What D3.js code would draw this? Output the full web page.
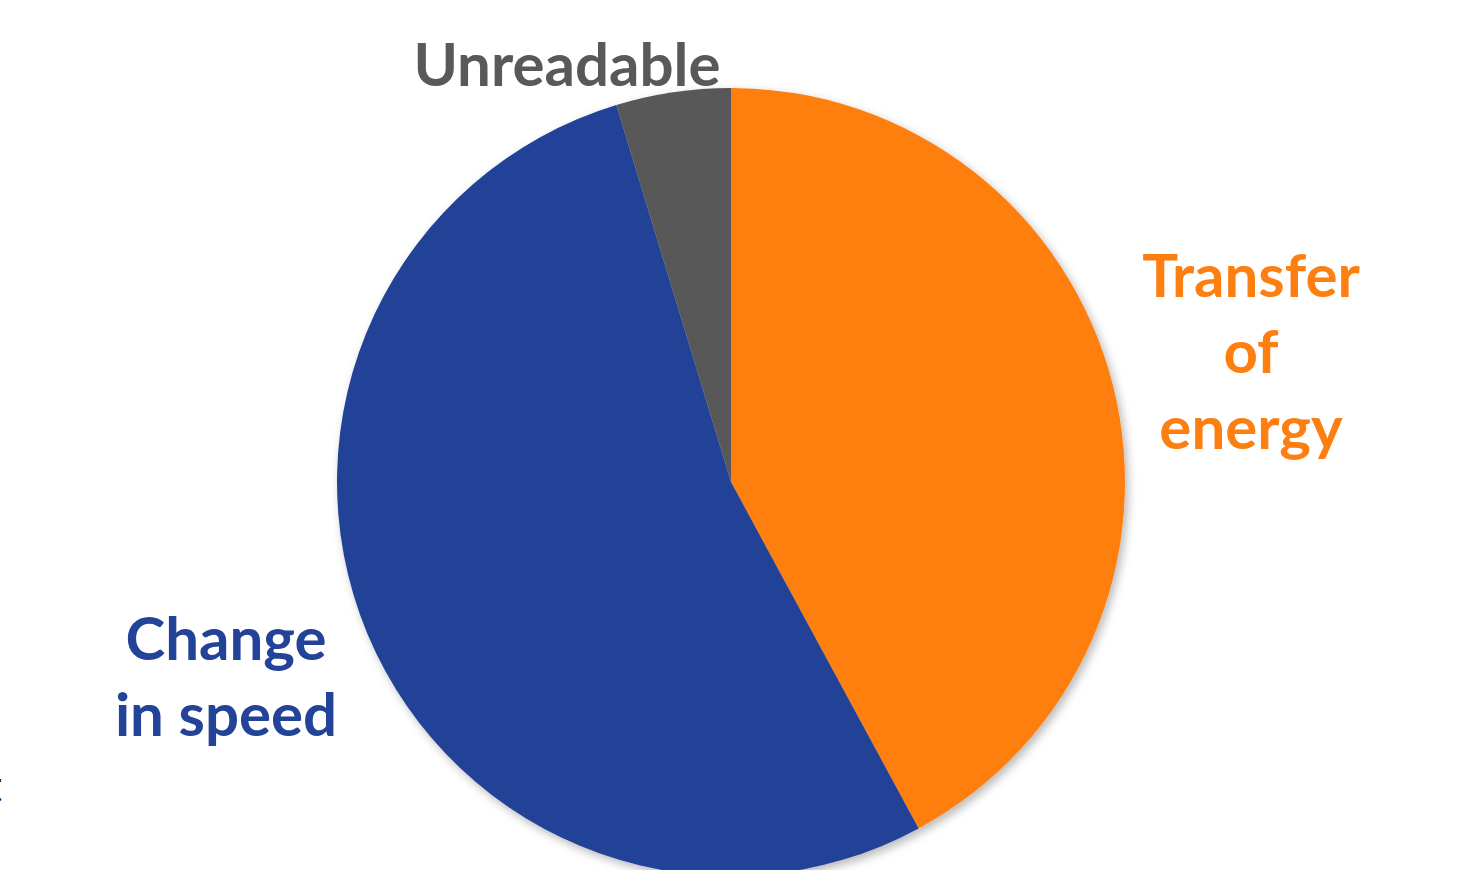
<!DOCTYPE html>
<html>
<head>
<meta charset="utf-8">
<script src="https://cdn.jsdelivr.net/npm/d3@7"></script>
<style>
  html, body { margin: 0; padding: 0; background: #fff; overflow: hidden; }
  svg { display: block; }
  .label { font-family: Lato, "Open Sans", sans-serif; font-weight: 700; }
</style>
</head>
<body>
<svg id="chart" width="1478" height="870"></svg>
<script>
'use strict';

// share of answers per category
const categories = ['Transfer of energy', 'Change in speed', 'Unreadable'];
const values = [42.1, 53.2, 4.7];
const colors = ['#FE7F11', '#234398', '#595959'];

// label text lines, one list per category
const labelLines = [
  ['Transfer', 'of', 'energy'],
  ['Change', 'in speed'],
  ['Unreadable'],
];

// where each label block sits (center x, first baseline y)
const labelSpots = [
  { x: 1251, y: 297 },
  { x: 226, y: 660 },
  { x: 567, y: 86 },
];

const cx = 731;
const cy = 482;
const radius = 394;
const lineGap = 76;

const svg = d3.select('#chart');

const defs = svg.append('defs');
const shadow = defs.append('filter')
  .attr('id', 'shadow')
  .attr('x', '-10%').attr('y', '-10%')
  .attr('width', '120%').attr('height', '120%');
shadow.append('feDropShadow')
  .attr('dx', 3).attr('dy', 4)
  .attr('stdDeviation', 5)
  .attr('flood-color', '#000')
  .attr('flood-opacity', 0.28);

const pie = d3.pie().sort(null).value((d) => d)(values);
const arc = d3.arc().innerRadius(0).outerRadius(radius);

const g = svg.append('g')
  .attr('transform', `translate(${cx},${cy})`);

g.append('g')
  .attr('filter', 'url(#shadow)')
  .selectAll('path')
  .data(pie)
  .enter()
  .append('path')
  .attr('d', arc)
  .attr('fill', (d, i) => colors[i]);

// labels, coloured like their slice
categories.forEach((c, i) => {
  const t = svg.append('text')
    .attr('class', 'label')
    .attr('text-anchor', 'middle')
    .attr('fill', colors[i])
    .style('font-size', '60px');
  labelLines[i].forEach((line, j) => {
    t.append('tspan')
      .attr('x', labelSpots[i].x)
      .attr('y', labelSpots[i].y + j * lineGap)
      .text(line);
  });
});

// stray letter clipped at the left edge of the slide
svg.append('text')
  .attr('x', -14)
  .attr('y', 802)
  .attr('fill', '#000')
  .style('font-family', 'Lato, sans-serif')
  .style('font-size', '44px')
  .text('t');
</script>
</body>
</html>
